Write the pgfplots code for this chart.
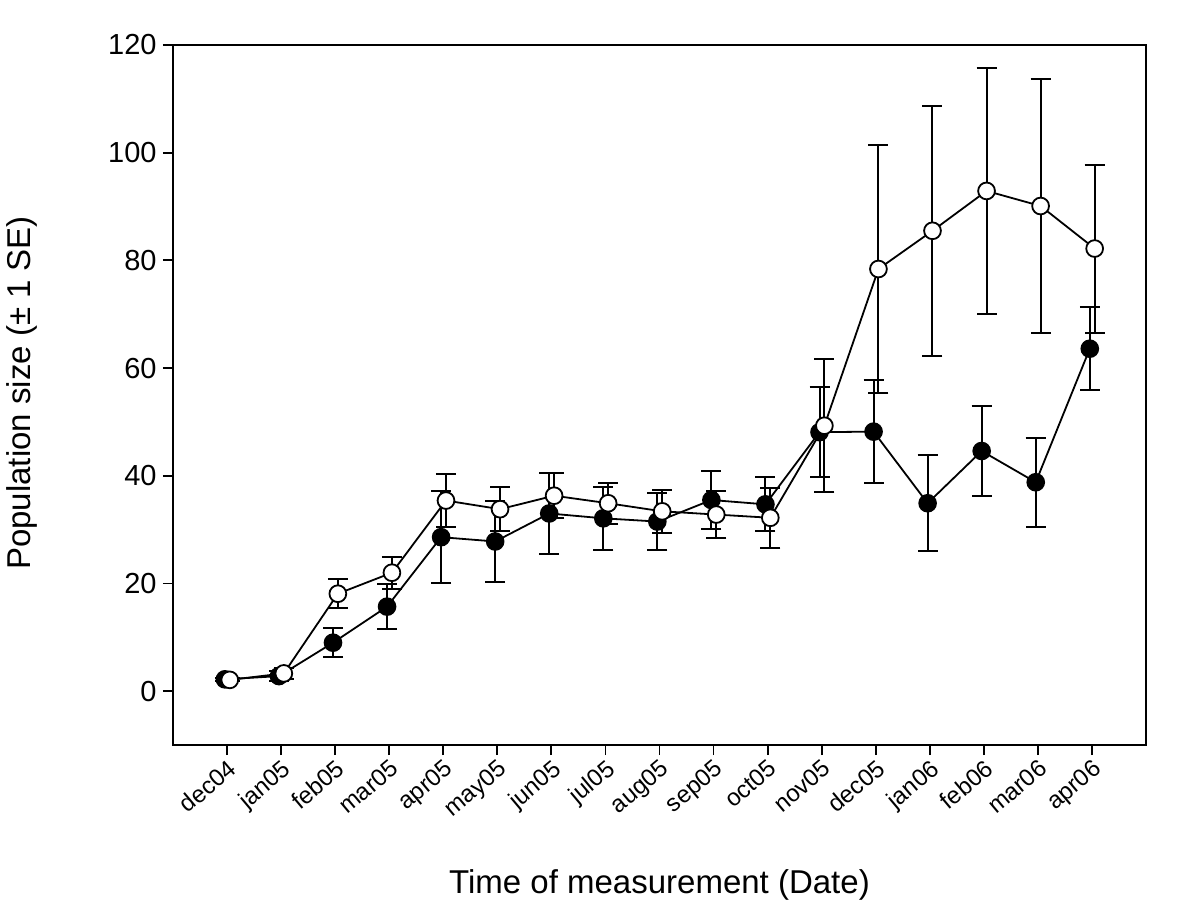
\documentclass[border=0pt]{standalone}
\usepackage{pgfplots}
\pgfplotsset{compat=1.18}
\usepackage{pgfplotstable}
\usepackage{fontspec}
\setmainfont{Liberation Sans}

\pgfplotstableread{
x y e
-0.04 2.2 0.3
0.96 2.8 1.0
1.96 9.0 2.7
2.96 15.7 4.2
3.96 28.6 8.6
4.96 27.8 7.5
5.96 33.0 7.6
6.96 32.1 5.8
7.96 31.5 5.3
8.96 35.5 5.4
9.96 34.7 5.0
10.96 48.1 8.4
11.96 48.2 9.6
12.96 34.9 8.9
13.96 44.6 8.3
14.96 38.8 8.3
15.96 63.6 7.7
}\filled

\pgfplotstableread{
x y e
0.05 2.1 0.3
1.05 3.3 1.0
2.05 18.1 2.7
3.05 22.0 3.0
4.05 35.4 5.0
5.05 33.8 4.1
6.05 36.3 4.2
7.05 34.9 3.8
8.05 33.4 4.0
9.05 32.8 4.3
10.05 32.2 5.6
11.05 49.3 12.4
12.05 78.4 23.0
13.05 85.5 23.2
14.05 92.9 22.8
15.05 90.1 23.5
16.05 82.2 15.6
}\open

\begin{document}
\begin{tikzpicture}
\begin{axis}[
  scale only axis,
  width=486.5pt, height=350pt,
  xmin=-1, xmax=17,
  ymin=-10, ymax=120,
  ytick={0,20,...,120},
  xtick={0,...,16},
  xticklabels={dec04,jan05,feb05,mar05,apr05,may05,jun05,jul05,aug05,sep05,oct05,nov05,dec05,jan06,feb06,mar06,apr06},
  axis line style={line width=0.9pt},
  tick style={line width=0.9pt, black},
  tick align=outside,
  major tick length=5pt,
  xtick pos=bottom, ytick pos=left,
  /pgf/number format/assume math mode=true,
  yticklabel style={font=\fontsize{14.5}{17}\selectfont, inner sep=3pt},
  xticklabel style={font=\fontsize{12}{14}\selectfont, rotate=40, anchor=north east, inner sep=1pt},
  xlabel={Time of measurement (Date)},
  ylabel={Population size (± 1 SE)},
  every axis x label/.style={at={(rel axis cs:0.5,-0.2)}, anchor=center, font=\fontsize{16.5}{19}\selectfont},
  every axis y label/.style={at={(rel axis cs:-0.155,0.503)}, rotate=90, anchor=center, font=\fontsize{16.5}{19}\selectfont},
  clip=false,
]
\path (rel axis cs:-0.1778,-0.2214) rectangle (rel axis cs:1.0555,1.0643);
\addplot[black, line width=0.9pt, mark=*, mark size=4.2pt, mark options={fill=black, line width=0.9pt},
  error bars/.cd, y dir=both, y explicit,
  error bar style={line width=1pt, black, solid},
  error mark options={rotate=90, mark size=5pt, line width=1pt, black}]
  table[x=x, y=y, y error=e] {\filled};
\addplot[black, line width=0.9pt, mark=*, mark size=4.2pt, mark options={fill=white, line width=0.9pt},
  error bars/.cd, y dir=both, y explicit,
  error bar style={line width=1pt, black, solid},
  error mark options={rotate=90, mark size=5pt, line width=1pt, black}]
  table[x=x, y=y, y error=e] {\open};
\end{axis}
\end{tikzpicture}
\end{document}
